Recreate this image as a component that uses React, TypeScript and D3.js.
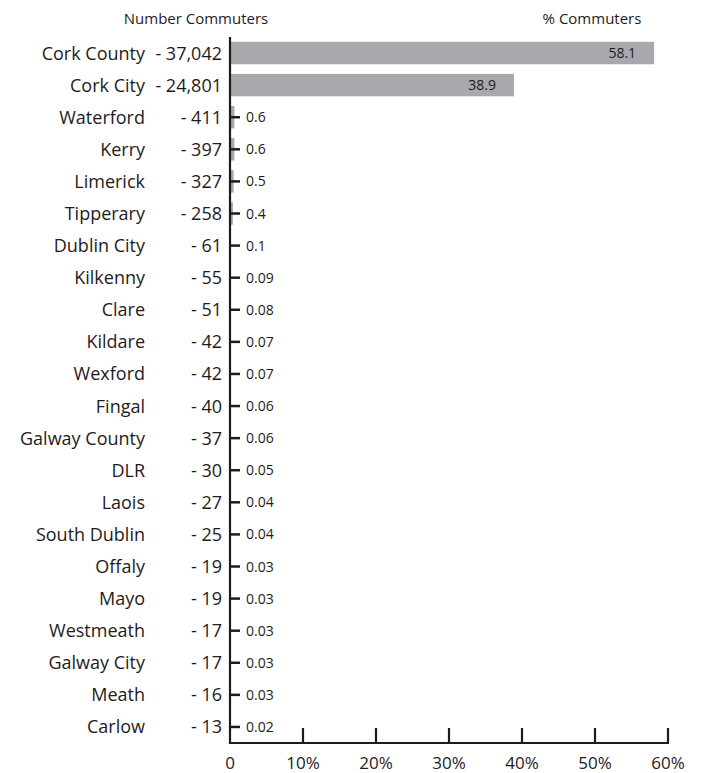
import React from "react";
import * as d3 from "d3";

const places = [
  "Cork County", "Cork City", "Waterford", "Kerry", "Limerick", "Tipperary",
  "Dublin City", "Kilkenny", "Clare", "Kildare", "Wexford", "Fingal",
  "Galway County", "DLR", "Laois", "South Dublin", "Offaly", "Mayo",
  "Westmeath", "Galway City", "Meath", "Carlow",
];
const commuters = [
  37042, 24801, 411, 397, 327, 258, 61, 55, 51, 42, 42, 40, 37, 30, 27, 25,
  19, 19, 17, 17, 16, 13,
];
const pctLabels = [
  "58.1", "38.9", "0.6", "0.6", "0.5", "0.4", "0.1", "0.09", "0.08", "0.07",
  "0.07", "0.06", "0.06", "0.05", "0.04", "0.04", "0.03", "0.03", "0.03",
  "0.03", "0.03", "0.02",
];
const pctTicks = [0, 10, 20, 30, 40, 50, 60];

const W = 705;
const H = 773;
const FONT = "'Open Sans', sans-serif";
const INK = "#1f1b1c";

const App: React.FC = () => {
  const x = d3.scaleLinear().domain([0, 60]).range([230, 668]);
  const y = d3
    .scaleBand<string>()
    .domain(places)
    .range([37, 743])
    .paddingInner(0.3)
    .paddingOuter(0.15);
  const fmt = d3.format(",");
  const baseY = 743;

  return (
    <svg
      width={W}
      height={H}
      style={{ position: "absolute", left: 0, top: 0, background: "#fff" }}
      fontFamily={FONT}
    >
      <text x={196} y={24} textAnchor="middle" fontSize={15} fill={INK}>
        Number Commuters
      </text>
      <text x={592} y={24} textAnchor="middle" fontSize={15} fill={INK}>
        % Commuters
      </text>

      {places.map((p, i) => {
        const v = +pctLabels[i];
        const cy = (y(p) ?? 0) + y.bandwidth() / 2;
        const big = v >= 1;
        return (
          <g key={p}>
            <rect
              x={x(0)}
              y={y(p)}
              width={x(v) - x(0)}
              height={y.bandwidth()}
              fill="#a7a9ac"
            />
            <text x={145} y={cy} dy="0.36em" textAnchor="end" fontSize={18} fill={INK}>
              {p}
            </text>
            <text x={222} y={cy} dy="0.36em" textAnchor="end" fontSize={18} fill={INK}>
              {"- " + fmt(commuters[i])}
            </text>
            {big ? (
              <text
                x={x(v) - 18}
                y={cy}
                dy="0.36em"
                textAnchor="end"
                fontSize={14}
                fill={INK}
              >
                {pctLabels[i]}
              </text>
            ) : (
              <g>
                <line x1={231} x2={240} y1={cy} y2={cy} stroke={INK} strokeWidth={2.5} />
                <text x={246} y={cy} dy="0.36em" fontSize={14} fill={INK}>
                  {pctLabels[i]}
                </text>
              </g>
            )}
          </g>
        );
      })}

      <line x1={x(0)} x2={x(0)} y1={37} y2={baseY + 1} stroke={INK} strokeWidth={2.2} />
      <line x1={x(0) - 1} x2={x(60) + 1} y1={baseY} y2={baseY} stroke={INK} strokeWidth={2.2} />
      {pctTicks.map((t) => (
        <g key={t}>
          {t > 0 && (
            <line x1={x(t)} x2={x(t)} y1={baseY - 15} y2={baseY} stroke={INK} strokeWidth={2.2} />
          )}
          <text x={x(t)} y={769} textAnchor="middle" fontSize={17} fill={INK}>
            {t === 0 ? "0" : `${t}%`}
          </text>
        </g>
      ))}
    </svg>
  );
};

export default App;
